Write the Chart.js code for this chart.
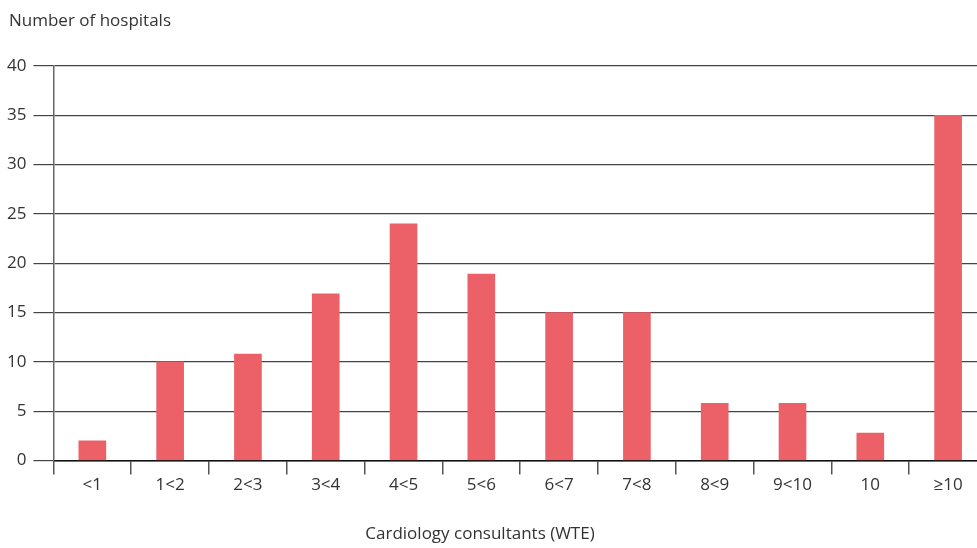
<!DOCTYPE html>
<html>
<head>
<meta charset="utf-8">
<script src="https://cdn.jsdelivr.net/npm/chart.js@4"></script>
<style>
	html, body { margin: 0; padding: 0; background: #fff; overflow: hidden; }
	#wrap { width: 990px; height: 548px; }
</style>
</head>
<body>
<div id="wrap"><canvas id="bar-chart"></canvas></div>
<script>
var categories = ['<1', '1<2', '2<3', '3<4', '4<5', '5<6', '6<7', '7<8', '8<9', '9<10', '10', '≥10'];
var hospitals = [2, 10, 10.8, 16.9, 24, 18.9, 15, 15, 5.8, 5.8, 2.8, 35];
var yTicks = [0, 5, 10, 15, 20, 25, 30, 35, 40];

var yTitle = 'Number of hospitals';
var xTitle = 'Cardiology consultants (WTE)';

Chart.defaults.font.family = '"Open Sans", "Noto Sans", sans-serif';
Chart.defaults.font.size = 17;
Chart.defaults.color = '#333';

// axis titles sit outside the plot, left-aligned on top and centred on the page below
var axisTitles = {
	id: 'axisTitles',
	afterDraw: function(chart) {
		var ctx = chart.ctx;
		ctx.save();
		ctx.fillStyle = '#333';
		ctx.font = '17px "Open Sans", "Noto Sans", sans-serif';
		ctx.textBaseline = 'middle';
		ctx.textAlign = 'left';
		ctx.fillText(yTitle, 9, 21);
		ctx.textAlign = 'center';
		ctx.fillText(xTitle, 480, 534);
		ctx.restore();
	}
};

var ctxBar = document.getElementById('bar-chart');
var myBarChart = new Chart(ctxBar, {
	type: 'bar',
	plugins: [axisTitles],
	data: {
		labels: categories,
		datasets: [{
			data: hospitals,
			backgroundColor: '#EC6068',
			barThickness: 27
		}]
	},
	options: {
		responsive: true,
		maintainAspectRatio: false,
		animation: false,
		layout: {
			padding: { top: 66, left: 0, right: 3, bottom: 53 }
		},
		plugins: {
			legend: { display: false },
			tooltip: { enabled: false }
		},
		scales: {
			x: {
				offset: true,
				grid: {
					offset: true,
					drawOnChartArea: false,
					drawTicks: true,
					tickLength: 14,
					color: '#555',
					lineWidth: 1.5
				},
				border: { display: true, color: '#111', width: 1.5 },
				ticks: { padding: 0, color: '#333' }
			},
			y: {
				min: 0,
				max: 40,
				afterBuildTicks: function(scale) {
					scale.ticks = yTicks.map(function(v) { return { value: v }; });
				},
				grid: {
					color: '#444',
					lineWidth: 1.2,
					tickLength: 20
				},
				border: { display: true, color: '#666', width: 1.5 },
				ticks: { padding: 7, color: '#333' }
			}
		}
	}
});
</script>
</body>
</html>
